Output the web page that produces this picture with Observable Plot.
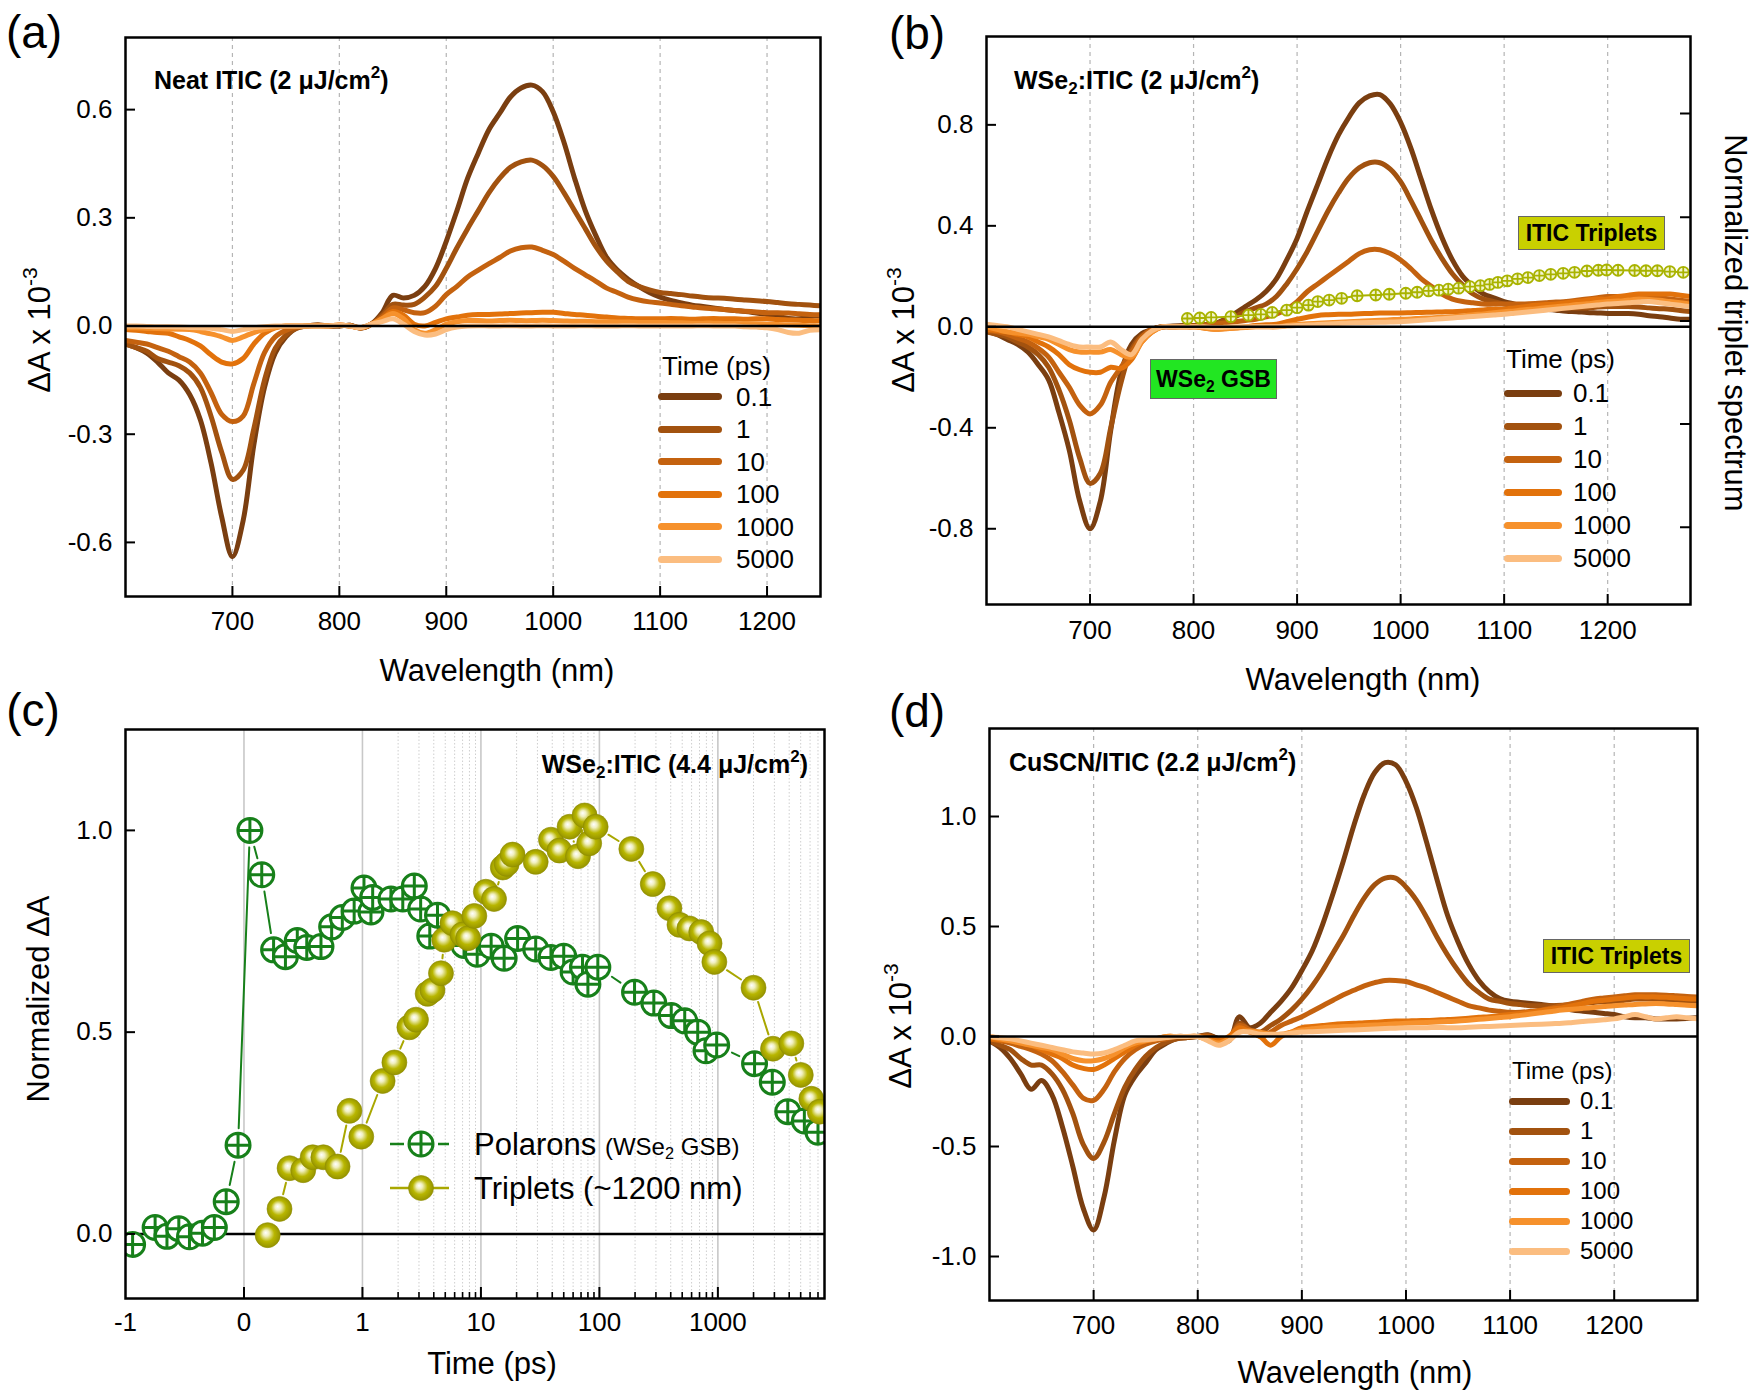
<!DOCTYPE html>
<html><head><meta charset="utf-8">
<script src="https://cdn.jsdelivr.net/npm/d3@7"></script>
<script src="https://cdn.jsdelivr.net/npm/@observablehq/plot@0.6"></script>
<style>
body{margin:0;background:#fff;}
#fig{position:relative;width:1753px;height:1393px;overflow:hidden;font-family:"Liberation Sans",Arial,Helvetica,sans-serif;color:#000;background:#fff;}
.abs{position:absolute;white-space:nowrap;line-height:1;}
.panel{position:absolute;}
sup{font-size:0.68em;vertical-align:0.6em;line-height:0;}
sub{font-size:0.68em;vertical-align:-0.3em;line-height:0;}
.box{position:absolute;display:flex;align-items:center;justify-content:center;font-weight:bold;border:1px solid #666;box-sizing:border-box;white-space:nowrap;}
</style></head><body><div id="fig"></div>
<script>
// ---------------- DATA ----------------
const times = ["0.1", "1", "10", "100", "1000", "5000"];
const timeColors = ["#7a3e10", "#a2520f", "#c4620f", "#e2720b", "#f6912c", "#fbbd80"];

const wlA = [600,610,620,630,640,650,660,670,680,690,700,710,720,730,740,750,760,770,780,790,
  800,810,820,830,840,850,860,870,880,890,900,910,920,930,940,950,960,970,980,990,
  1000,1010,1020,1030,1040,1050,1060,1070,1080,1090,1100,1110,1120,1130,1140,1150,1160,1170,1180,1190,
  1200,1210,1220,1230,1240,1250];
const wlBD = [600,610,620,630,640,650,660,670,680,690,700,710,720,730,740,750,760,770,780,790,
  800,810,820,830,840,850,860,870,880,890,900,910,920,930,940,950,960,970,980,990,
  1000,1010,1020,1030,1040,1050,1060,1070,1080,1090,1100,1110,1120,1130,1140,1150,1160,1170,1180,1190,
  1200,1210,1220,1230,1240,1250,1260,1270,1280];

// (a) Neat ITIC
const a01 = [-0.05,-0.06,-0.075,-0.10,-0.13,-0.15,-0.19,-0.26,-0.38,-0.53,
  -0.64,-0.54,-0.33,-0.17,-0.075,-0.03,-0.006,0.0,0.003,0.0,
  0.0,0.002,-0.006,0.006,0.037,0.085,0.078,0.085,0.11,0.16,
  0.235,0.32,0.41,0.48,0.545,0.59,0.635,0.66,0.668,0.65,
  0.594,0.51,0.41,0.32,0.25,0.19,0.155,0.13,0.11,0.093,
  0.08,0.071,0.064,0.058,0.054,0.05,0.046,0.043,0.04,0.036,
  0.032,0.027,0.021,0.02,0.026,0.03];
const a1 = [-0.05,-0.06,-0.07,-0.09,-0.10,-0.11,-0.13,-0.17,-0.25,-0.35,
  -0.425,-0.40,-0.285,-0.15,-0.062,-0.025,-0.006,0.0,0.003,0.0,
  0.0,0.002,-0.005,0.005,0.03,0.06,0.058,0.06,0.08,0.11,
  0.16,0.217,0.27,0.32,0.37,0.41,0.44,0.455,0.46,0.445,
  0.415,0.37,0.32,0.27,0.22,0.18,0.15,0.124,0.11,0.10,
  0.093,0.09,0.087,0.083,0.08,0.078,0.077,0.074,0.072,0.07,
  0.068,0.065,0.062,0.06,0.058,0.056];
const a10 = [-0.04,-0.045,-0.05,-0.06,-0.07,-0.085,-0.10,-0.13,-0.185,-0.245,
  -0.265,-0.25,-0.16,-0.074,-0.03,-0.012,-0.003,0.0,0.002,0.0,
  0.002,0.0,-0.005,0.005,0.025,0.05,0.045,0.037,0.037,0.055,
  0.087,0.11,0.136,0.155,0.173,0.19,0.208,0.217,0.219,0.21,
  0.198,0.18,0.16,0.142,0.124,0.105,0.093,0.08,0.072,0.067,
  0.064,0.06,0.056,0.053,0.05,0.048,0.046,0.043,0.041,0.039,
  0.037,0.037,0.036,0.034,0.032,0.031];
const a100 = [-0.01,-0.012,-0.015,-0.018,-0.02,-0.03,-0.04,-0.055,-0.08,-0.1,
  -0.105,-0.09,-0.05,-0.02,-0.005,0.0,0.0,0.0,0.0,0.0,
  0.003,0.0,-0.005,0.005,0.02,0.04,0.03,0.005,0.0,0.01,
  0.02,0.025,0.03,0.032,0.032,0.033,0.035,0.036,0.037,0.038,
  0.038,0.035,0.032,0.03,0.027,0.025,0.022,0.021,0.02,0.02,
  0.02,0.021,0.02,0.019,0.02,0.021,0.02,0.02,0.019,0.02,
  0.02,0.018,0.017,0.016,0.015,0.015];
const a1000 = [-0.005,-0.005,-0.006,-0.007,-0.008,-0.009,-0.01,-0.015,-0.022,-0.03,
  -0.04,-0.03,-0.018,-0.01,-0.004,0.0,0.0,0.0,0.0,0.0,
  0.003,0.0,-0.005,0.005,0.02,0.035,0.02,-0.01,-0.02,-0.01,
  0.005,0.012,0.015,0.015,0.014,0.015,0.016,0.015,0.015,0.016,
  0.015,0.014,0.013,0.013,0.012,0.012,0.011,0.011,0.01,0.01,
  0.01,0.009,0.009,0.008,0.008,0.008,0.007,0.007,0.006,0.006,
  0.005,0.004,0.003,0.002,0.001,0.0];
const a5000 = [0.0,0.0,-0.001,-0.002,-0.002,-0.003,-0.004,-0.005,-0.006,-0.01,
  -0.015,-0.01,-0.005,-0.002,0.0,0.0,0.0,0.0,0.0,0.0,
  0.003,0.0,-0.004,0.005,0.012,0.02,0.005,-0.015,-0.025,-0.022,
  -0.01,-0.003,0.0,0.001,0.0,0.0,0.001,0.0,0.0,0.001,
  0.0,0.0,0.0,0.001,0.0,0.0,0.0,0.001,0.0,0.0,
  0.0,0.0,0.0,0.0,0.001,0.0,0.0,0.0,-0.002,-0.003,
  -0.005,-0.01,-0.018,-0.02,-0.012,-0.01];

// (b) WSe2:ITIC
const b01 = [-0.018,-0.03,-0.05,-0.07,-0.1,-0.15,-0.21,-0.34,-0.49,-0.69,
  -0.80,-0.69,-0.41,-0.18,-0.07,-0.027,-0.01,0.0,0.003,0.005,
  0.005,0.008,0.012,0.03,0.053,0.08,0.106,0.14,0.19,0.265,
  0.35,0.46,0.565,0.67,0.76,0.83,0.887,0.915,0.92,0.883,
  0.81,0.707,0.583,0.46,0.353,0.265,0.2,0.16,0.13,0.115,
  0.1,0.09,0.08,0.075,0.07,0.066,0.062,0.06,0.057,0.055,
  0.053,0.053,0.053,0.05,0.044,0.04,0.035,0.03,0.03];
const b1 = [-0.02,-0.03,-0.04,-0.06,-0.08,-0.11,-0.16,-0.25,-0.37,-0.52,
  -0.62,-0.58,-0.40,-0.22,-0.09,-0.035,-0.01,0.0,0.0,0.003,
  0.005,0.008,0.012,0.025,0.04,0.06,0.075,0.09,0.12,0.17,
  0.23,0.30,0.38,0.46,0.53,0.59,0.63,0.65,0.65,0.625,
  0.575,0.50,0.42,0.34,0.27,0.21,0.165,0.13,0.11,0.10,
  0.09,0.085,0.08,0.077,0.075,0.075,0.075,0.075,0.075,0.078,
  0.08,0.08,0.08,0.078,0.075,0.072,0.07,0.065,0.06];
const b10 = [-0.015,-0.02,-0.03,-0.045,-0.06,-0.085,-0.12,-0.18,-0.24,-0.31,
  -0.345,-0.31,-0.22,-0.16,-0.1,-0.04,-0.01,0.0,0.0,0.0,
  0.0,0.005,0.01,0.015,0.02,0.025,0.03,0.04,0.05,0.07,
  0.10,0.14,0.17,0.20,0.23,0.26,0.29,0.305,0.305,0.29,
  0.265,0.23,0.19,0.16,0.13,0.11,0.10,0.095,0.09,0.09,
  0.09,0.09,0.09,0.092,0.095,0.098,0.10,0.105,0.11,0.115,
  0.12,0.12,0.12,0.125,0.12,0.115,0.11,0.105,0.10];
const b100 = [-0.01,-0.015,-0.02,-0.03,-0.04,-0.06,-0.08,-0.11,-0.15,-0.17,
  -0.18,-0.18,-0.16,-0.165,-0.13,-0.06,-0.02,0.0,0.0,0.0,
  0.0,-0.005,-0.01,-0.008,-0.005,0.0,0.005,0.008,0.01,0.02,
  0.03,0.038,0.045,0.048,0.05,0.05,0.052,0.053,0.055,0.055,
  0.055,0.056,0.057,0.058,0.059,0.06,0.062,0.065,0.067,0.07,
  0.07,0.075,0.08,0.085,0.088,0.09,0.095,0.1,0.105,0.11,
  0.11,0.12,0.125,0.13,0.13,0.13,0.13,0.125,0.12];
const b1000 = [0.0,-0.01,-0.02,-0.025,-0.03,-0.04,-0.05,-0.07,-0.09,-0.1,
  -0.10,-0.10,-0.09,-0.11,-0.12,-0.06,-0.02,0.0,0.0,0.0,
  0.0,-0.005,-0.01,-0.008,-0.005,-0.003,0.0,0.0,0.0,0.005,
  0.01,0.012,0.014,0.016,0.018,0.02,0.022,0.024,0.026,0.028,
  0.03,0.031,0.034,0.035,0.038,0.04,0.043,0.048,0.051,0.056,
  0.06,0.063,0.068,0.071,0.076,0.08,0.083,0.088,0.091,0.096,
  0.1,0.102,0.106,0.11,0.108,0.105,0.1,0.095,0.09];
const b5000 = [0.01,0.005,0.0,-0.01,-0.02,-0.03,-0.04,-0.055,-0.07,-0.08,
  -0.08,-0.08,-0.06,-0.09,-0.11,-0.05,-0.015,0.0,0.0,0.0,
  0.0,0.0,-0.003,-0.002,0.0,0.0,0.0,0.0,0.0,0.003,
  0.005,0.007,0.009,0.011,0.013,0.015,0.016,0.017,0.018,0.019,
  0.02,0.023,0.026,0.029,0.032,0.035,0.038,0.041,0.044,0.047,
  0.05,0.054,0.058,0.062,0.066,0.07,0.074,0.078,0.082,0.086,
  0.09,0.092,0.095,0.098,0.1,0.095,0.09,0.085,0.08];
// triplet spectrum in (b), read against the left axis
const tripWl = [794,806,817,836,853,865,876,890,900,911,920,931,943,958,976,989,1005,1016,1027,1037,
  1046,1056,1067,1077,1086,1094,1103,1113,1123,1134,1145,1157,1168,1180,1191,1199,1210,1226,1237,1248,1260,1273];
const tripVal = [0.033,0.035,0.037,0.04,0.046,0.049,0.057,0.066,0.076,0.086,0.1,0.106,0.113,0.123,0.126,0.129,0.133,0.137,0.142,0.145,
  0.149,0.153,0.159,0.163,0.168,0.176,0.182,0.19,0.195,0.203,0.208,0.212,0.216,0.221,0.224,0.225,0.224,0.223,0.222,0.222,0.219,0.216];
// right-axis (normalized triplet spectrum) tick positions expressed in left-axis units
const rightTicksB = [-0.794, -0.385, 0.023, 0.434, 0.845];

// (c) kinetics
const polT = [-0.94,-0.75,-0.65,-0.55,-0.46,-0.35,-0.25,-0.15,-0.05,0.05,0.15,0.25,0.35,0.45,0.53,0.65,0.74,0.83,0.93,
  1.03,1.18,1.22,1.74,2.19,2.74,3.1,3.7,4.3,5.5,7.2,9.3,12.2,15.7,20.4,29,39,50,60,72,80,97,
  198,288,404,525,676,794,977,2040,2880,3890,5370,7000];
const polY = [-0.026,0.016,-0.006,0.013,-0.007,0.002,0.016,0.08,0.22,1.0,0.89,0.704,0.687,0.727,0.71,0.712,0.761,0.784,0.80,
  0.857,0.798,0.834,0.83,0.83,0.862,0.805,0.738,0.79,0.74,0.715,0.693,0.713,0.683,0.732,0.706,0.685,0.688,0.649,0.661,0.619,0.661,
  0.599,0.572,0.541,0.528,0.50,0.454,0.468,0.422,0.376,0.303,0.28,0.252];
const triT = [0.2,0.3,0.385,0.5,0.58,0.67,0.79,0.89,0.99,1.48,1.86,2.49,2.83,3.55,3.9,4.6,4.9,5.75,7.0,7.8,8.8,
  11,12.9,15.3,16.5,18.5,29,39,46,56,66,75,82,93,186,282,390,474,575,724,851,934,2000,2920,4170,5010,6150,7240];
const triY = [-0.003,0.062,0.163,0.158,0.19,0.19,0.167,0.305,0.241,0.379,0.425,0.512,0.531,0.595,0.604,0.646,0.729,0.77,0.742,0.733,0.788,
  0.848,0.83,0.908,0.917,0.94,0.922,0.977,0.95,1.009,0.936,1.037,0.968,1.009,0.954,0.867,0.807,0.766,0.757,0.748,0.72,0.674,0.61,0.459,0.472,0.394,0.335,0.303];
const cMajorT = [-1, 0, 1, 10, 100, 1000];
const cGridT = [0, 1, 10, 100, 1000];
const cMinorT = [2,3,4,5,6,7,8,9,20,30,40,50,60,70,80,90,200,300,400,500,600,700,800,900,2000,3000,4000,5000,6000,7000];

// (d) CuSCN/ITIC
const d01 = [-0.02,-0.05,-0.1,-0.17,-0.24,-0.2,-0.265,-0.41,-0.59,-0.78,
  -0.88,-0.73,-0.47,-0.265,-0.18,-0.12,-0.06,-0.03,-0.01,-0.005,
  0.0,0.008,-0.01,-0.02,0.09,0.04,0.06,0.11,0.16,0.22,
  0.30,0.39,0.51,0.65,0.80,0.96,1.10,1.20,1.245,1.235,
  1.16,1.04,0.88,0.71,0.55,0.43,0.33,0.255,0.204,0.173,
  0.16,0.155,0.15,0.145,0.14,0.13,0.12,0.115,0.11,0.105,
  0.1,0.09,0.085,0.085,0.08,0.08,0.08,0.082,0.085];
const d1 = [-0.02,-0.04,-0.06,-0.1,-0.13,-0.13,-0.17,-0.24,-0.35,-0.49,
  -0.555,-0.48,-0.35,-0.23,-0.15,-0.09,-0.05,-0.025,-0.01,-0.005,
  0.0,0.005,-0.01,-0.01,0.06,0.03,0.02,0.05,0.08,0.12,
  0.17,0.23,0.30,0.38,0.46,0.55,0.63,0.69,0.72,0.72,
  0.68,0.62,0.54,0.45,0.37,0.3,0.24,0.2,0.17,0.16,
  0.15,0.145,0.14,0.14,0.14,0.142,0.145,0.15,0.155,0.158,
  0.16,0.165,0.17,0.17,0.17,0.168,0.165,0.162,0.16];
const d10 = [-0.01,-0.02,-0.03,-0.045,-0.06,-0.08,-0.11,-0.16,-0.22,-0.28,
  -0.29,-0.24,-0.16,-0.1,-0.06,-0.035,-0.02,-0.01,0.0,0.0,
  0.0,0.0,-0.01,-0.005,0.05,0.03,0.0,0.02,0.05,0.07,
  0.09,0.115,0.14,0.165,0.19,0.21,0.23,0.245,0.255,0.255,
  0.25,0.235,0.22,0.2,0.18,0.16,0.14,0.13,0.12,0.115,
  0.11,0.11,0.115,0.12,0.13,0.14,0.15,0.16,0.17,0.175,
  0.18,0.185,0.19,0.19,0.19,0.188,0.185,0.182,0.18];
const d100 = [-0.01,-0.015,-0.02,-0.03,-0.04,-0.06,-0.08,-0.1,-0.13,-0.145,
  -0.15,-0.13,-0.1,-0.07,-0.04,-0.02,-0.01,0.0,0.0,0.0,
  0.0,-0.01,-0.02,0.0,0.04,0.02,0.0,-0.04,0.0,0.02,
  0.04,0.045,0.05,0.055,0.058,0.06,0.063,0.065,0.068,0.07,
  0.07,0.072,0.073,0.075,0.077,0.08,0.083,0.087,0.09,0.095,
  0.1,0.105,0.11,0.118,0.125,0.13,0.14,0.15,0.16,0.165,
  0.17,0.175,0.18,0.18,0.18,0.178,0.175,0.172,0.17];
const d1000 = [0.0,-0.01,-0.02,-0.03,-0.04,-0.05,-0.06,-0.08,-0.1,-0.11,
  -0.11,-0.1,-0.08,-0.05,-0.03,-0.02,-0.01,0.0,0.0,0.0,
  0.0,-0.015,-0.03,-0.01,0.02,0.025,0.02,0.01,0.01,0.02,
  0.03,0.035,0.04,0.043,0.045,0.047,0.05,0.052,0.055,0.058,
  0.06,0.062,0.064,0.066,0.068,0.07,0.074,0.078,0.082,0.086,
  0.09,0.096,0.102,0.108,0.114,0.12,0.124,0.128,0.132,0.136,
  0.14,0.143,0.146,0.148,0.15,0.148,0.145,0.142,0.14];
const d5000 = [0.0,-0.005,-0.01,-0.02,-0.03,-0.04,-0.05,-0.06,-0.07,-0.075,
  -0.08,-0.075,-0.06,-0.04,-0.02,-0.015,-0.01,-0.005,0.0,0.0,
  0.0,-0.02,-0.04,-0.02,0.02,0.02,0.01,0.01,0.01,0.015,
  0.02,0.022,0.024,0.026,0.028,0.03,0.032,0.034,0.036,0.038,
  0.04,0.04,0.04,0.041,0.04,0.04,0.042,0.044,0.046,0.048,
  0.05,0.052,0.054,0.056,0.058,0.06,0.064,0.068,0.072,0.076,
  0.08,0.09,0.1,0.09,0.08,0.085,0.09,0.085,0.08];

// ---------------- DRAWING ----------------
const FONT = '"Liberation Sans", Arial, Helvetica, sans-serif';
const fig = document.getElementById("fig");
const specTicksX = [700, 800, 900, 1000, 1100, 1200];
const fmt1 = d => (d < 0 ? "-" : "") + Math.abs(d).toFixed(1);
const rows = (xs, ys) => xs.map((x, i) => ({x, y: ys[i]}));

function place(svg, left, top, w, h) {
  const d = document.createElement("div");
  d.className = "panel";
  Object.assign(d.style, {left: left + "px", top: top + "px", width: w + "px", height: h + "px"});
  d.appendChild(svg);
  fig.appendChild(d);
}

function spectrum(cfg) {
  const {width, height, ml, mr, mt, mb, xDomain, yDomain, yTicks, series, wl, extra = [], rightTicks = [], padX} = cfg;
  const innerW = width - ml - mr, innerH = height - mt - mb;
  const marks = [
    Plot.ruleX(specTicksX, {stroke: "#b5b5b5", strokeWidth: 1.2, strokeDasharray: "4,4"}),
    ...series.map((vals, i) => Plot.line(rows(wl, vals), {x: "x", y: "y", stroke: timeColors[i], strokeWidth: 5, curve: "catmull-rom", clip: true})),
    ...extra,
    Plot.ruleY([0], {stroke: "black", strokeWidth: 2.5}),
    Plot.ruleX(specTicksX, {stroke: "black", strokeWidth: 2, insetTop: innerH - 10}),
    Plot.ruleY(yTicks, {stroke: "black", strokeWidth: 2, insetRight: innerW - 10}),
    Plot.ruleY(rightTicks, {stroke: "black", strokeWidth: 2, insetLeft: innerW - 10}),
    Plot.axisX({ticks: specTicksX, tickSize: 0, tickPadding: padX, tickFormat: d => String(d), label: null}),
    Plot.axisY({ticks: yTicks, tickSize: 0, tickPadding: 13, tickFormat: fmt1, label: null}),
    Plot.frame({stroke: "black", strokeWidth: 2.5})
  ];
  return Plot.plot({
    width, height, marginLeft: ml, marginRight: mr, marginTop: mt, marginBottom: mb,
    x: {domain: xDomain, axis: null},
    y: {domain: yDomain, axis: null},
    style: {fontFamily: FONT, fontSize: "26px", background: "transparent", color: "black", overflow: "visible", maxWidth: "none"},
    marks
  });
}

// crossed-circle symbol
const crossCircle = {
  draw(ctx, size) {
    const r = Math.sqrt(size / Math.PI);
    ctx.moveTo(r, 0);
    ctx.arc(0, 0, r, 0, 2 * Math.PI);
    ctx.moveTo(-r, 0); ctx.lineTo(r, 0);
    ctx.moveTo(0, -r); ctx.lineTo(0, r);
  }
};

// ---- Panel (a)
place(spectrum({width: 876, height: 690, ml: 125, mr: 56, mt: 37, mb: 94,
  xDomain: [600, 1250], yDomain: [-0.75, 0.8], yTicks: [-0.6, -0.3, 0, 0.3, 0.6],
  series: [a01, a1, a10, a100, a1000, a5000], wl: wlA, padX: 15}), 0, 0, 876, 690);

// ---- Panel (b)
const tripRows = rows(tripWl, tripVal);
place(spectrum({width: 877, height: 690, ml: 110, mr: 63, mt: 36, mb: 86,
  xDomain: [600, 1280], yDomain: [-1.1, 1.15], yTicks: [-0.8, -0.4, 0, 0.4, 0.8],
  series: [b01, b1, b10, b100, b1000, b5000], wl: wlBD, padX: 16, rightTicks: rightTicksB,
  extra: [
    Plot.line(tripRows, {x: "x", y: "y", stroke: "#a9b300", strokeWidth: 2}),
    Plot.dot(tripRows, {x: "x", y: "y", r: 5.5, symbol: crossCircle, stroke: "#a9b300", strokeWidth: 1.8, fill: "#f3f5cf"})
  ]}), 876, 0, 877, 690);

// ---- Panel (c)
const tx = t => t <= 1 ? t : 1 + Math.log10(t);
const polRows = polT.map((t, i) => ({u: tx(t), y: polY[i]}));
const triRows = triT.map((t, i) => ({u: tx(t), y: triY[i]}));
const segs = rs => rs.slice(1).map((d, i) => ({u1: rs[i].u, y1: rs[i].y, u2: d.u, y2: d.y}));
{
  const width = 876, height = 703, ml = 125, mr = 52, mt = 39, mb = 95;
  const innerW = width - ml - mr, innerH = height - mt - mb;
  const green = "#17801a", olive = "#a9a700";
  const svgC = Plot.plot({
    width, height, marginLeft: ml, marginRight: mr, marginTop: mt, marginBottom: mb,
    x: {domain: [-1, 4.9], axis: null},
    y: {domain: [-0.16, 1.25], axis: null},
    style: {fontFamily: FONT, fontSize: "26px", background: "transparent", color: "black", overflow: "visible", maxWidth: "none"},
    marks: [
      Plot.ruleX(cMinorT.map(tx), {stroke: "#cfcfcf", strokeWidth: 1, strokeDasharray: "1.5,2"}),
      Plot.ruleX(cGridT.map(tx), {stroke: "#c8c8c8", strokeWidth: 1.6}),
      Plot.ruleY([0], {stroke: "black", strokeWidth: 2.5}),
      Plot.arrow(segs(polRows), {x1: "u1", y1: "y1", x2: "u2", y2: "y2", headLength: 0, insetStart: 17, insetEnd: 17,
        stroke: green, strokeWidth: 2, clip: true}),
      Plot.dot(polRows, {x: "u", y: "y", r: 12, symbol: crossCircle, stroke: green, strokeWidth: 3, fill: "white", clip: true}),
      Plot.arrow(segs(triRows), {x1: "u1", y1: "y1", x2: "u2", y2: "y2", headLength: 0, insetStart: 15, insetEnd: 15,
        stroke: olive, strokeWidth: 2, clip: true}),
      Plot.dot(triRows, {x: "u", y: "y", r: 12.5, fill: "url(#ballGrad)", stroke: "#8f8d00", strokeWidth: 0.6, clip: true}),
      Plot.ruleX(cGridT.map(tx), {stroke: "black", strokeWidth: 2, insetTop: innerH - 11}),
      Plot.ruleX(cMinorT.map(tx), {stroke: "black", strokeWidth: 1.6, insetTop: innerH - 6}),
      Plot.ruleY([0, 0.5, 1.0], {stroke: "black", strokeWidth: 2, insetRight: innerW - 10}),
      Plot.axisX({ticks: cMajorT.map(tx), tickSize: 0, tickPadding: 14, label: null,
        tickFormat: u => String(u <= 1 ? u : Math.round(Math.pow(10, u - 1)))}),
      Plot.axisY({ticks: [0, 0.5, 1.0], tickSize: 0, tickPadding: 13, tickFormat: fmt1, label: null}),
      Plot.frame({stroke: "black", strokeWidth: 2.5})
    ]
  });
  const defs = d3.select(svgC).insert("defs", ":first-child");
  const g = defs.append("radialGradient").attr("id", "ballGrad")
    .attr("cx", "0.5").attr("cy", "0.5").attr("r", "0.55").attr("fx", "0.42").attr("fy", "0.4");
  [[0, "#ffffff"], [0.22, "#f0efc0"], [0.55, "#b8b600"], [1, "#8e8c00"]].forEach(([o, c]) =>
    g.append("stop").attr("offset", o).attr("stop-color", c));
  place(svgC, 0, 690, width, height);
}

// ---- Panel (d)
place(spectrum({width: 877, height: 703, ml: 113, mr: 56, mt: 38, mb: 93,
  xDomain: [600, 1280], yDomain: [-1.2, 1.4], yTicks: [-1.0, -0.5, 0, 0.5, 1.0],
  series: [d01, d1, d10, d100, d1000, d5000], wl: wlBD, padX: 15}), 876, 690, 877, 703);

// ---------------- TEXT OVERLAYS ----------------
function txt(html, x, y, o = {}) {
  const {size = 31, weight = "normal", anchor = "middle", rotate = 0} = o;
  const d = document.createElement("div");
  d.className = "abs";
  d.innerHTML = html;
  d.style.fontSize = size + "px";
  d.style.fontWeight = weight;
  d.style.left = x + "px";
  d.style.top = y + "px";
  const t = anchor === "start" ? "0" : anchor === "end" ? "-100%" : "-50%";
  d.style.transform = `translate(${t},-50%) rotate(${rotate}deg)`;
  fig.appendChild(d);
  return d;
}
function box(html, left, top, w, h, bg, size) {
  const d = document.createElement("div");
  d.className = "box";
  Object.assign(d.style, {left: left + "px", top: top + "px", width: w + "px", height: h + "px", background: bg, fontSize: size + "px"});
  d.innerHTML = "<span>" + html + "</span>";
  fig.appendChild(d);
}
function legend(titleX, titleY, swX, swW, textX, y0, dy, size) {
  txt("Time (ps)", titleX, titleY, {size, anchor: "start"});
  times.forEach((t, i) => {
    const s = document.createElement("div");
    Object.assign(s.style, {position: "absolute", left: swX + "px", top: (y0 + dy * i - 3.5) + "px", width: swW + "px", height: "7px",
      background: timeColors[i], borderRadius: "3.5px"});
    fig.appendChild(s);
    txt(t, textX, y0 + dy * i, {size, anchor: "start"});
  });
}

// panel letters
txt("(a)", 34, 32, {size: 46});
txt("(b)", 917, 33, {size: 46});
txt("(c)", 33, 710, {size: 46});
txt("(d)", 917, 711, {size: 46});

// sample annotations
txt("Neat ITIC (2 &mu;J/cm<sup>2</sup>)", 154, 80, {size: 25, weight: "bold", anchor: "start"});
txt("WSe<sub>2</sub>:ITIC (2 &mu;J/cm<sup>2</sup>)", 1014, 80, {size: 25, weight: "bold", anchor: "start"});
txt("WSe<sub>2</sub>:ITIC (4.4 &mu;J/cm<sup>2</sup>)", 808, 764, {size: 25, weight: "bold", anchor: "end"});
txt("CuSCN/ITIC (2.2 &mu;J/cm<sup>2</sup>)", 1009, 762, {size: 25, weight: "bold", anchor: "start"});

// axis titles
txt("Wavelength (nm)", 497, 670);
txt("&Delta;A x 10<sup>-3</sup>", 39, 330, {rotate: -90});
txt("Wavelength (nm)", 1363, 679);
txt("&Delta;A x 10<sup>-3</sup>", 903, 330, {rotate: -90});
txt("Normalized triplet spectrum", 1735, 323, {rotate: 90});
txt("Time (ps)", 492, 1363);
txt("Normalized &Delta;A", 38, 999, {rotate: -90});
txt("Wavelength (nm)", 1355, 1372);
txt("&Delta;A x 10<sup>-3</sup>", 900, 1026, {rotate: -90});

// legends
legend(662, 366, 658, 64, 736, 396.7, 32.5, 26);
legend(1506, 359, 1504, 58, 1573, 393, 33.0, 26);
legend(1512, 1071, 1509, 61, 1580, 1101.2, 30.0, 24);

// annotation boxes
box("ITIC Triplets", 1518, 216, 147, 34, "#c9d000", 23);
box("WSe<sub>2</sub> GSB", 1150, 359, 127, 40, "#22e622", 23);
box("ITIC Triplets", 1543, 939, 147, 34, "#c9d000", 23);

// panel (c) legend
{
  const lg = d3.select(fig).append("svg").attr("width", 72).attr("height", 80)
    .style("position", "absolute").style("left", "385px").style("top", "1125px").style("overflow", "visible");
  lg.append("path").attr("d", "M5,19H19M53,19H64").attr("stroke", "#17801a").attr("stroke-width", 2.5);
  lg.append("circle").attr("cx", 36).attr("cy", 19).attr("r", 12).attr("fill", "white").attr("stroke", "#17801a").attr("stroke-width", 3);
  lg.append("path").attr("d", "M24,19H48M36,7V31").attr("stroke", "#17801a").attr("stroke-width", 3);
  lg.append("line").attr("x1", 5).attr("x2", 64).attr("y1", 63).attr("y2", 63).attr("stroke", "#a9a700").attr("stroke-width", 2.5);
  lg.append("circle").attr("cx", 36).attr("cy", 63).attr("r", 12.5).attr("fill", "url(#ballGrad)").attr("stroke", "#8f8d00").attr("stroke-width", 0.6);
  txt("Polarons <span style='font-size:24px'>(WSe<sub>2</sub> GSB)</span>", 474, 1144, {anchor: "start"});
  txt("Triplets (~1200 nm)", 474, 1188, {anchor: "start"});
}
</script></body></html>
